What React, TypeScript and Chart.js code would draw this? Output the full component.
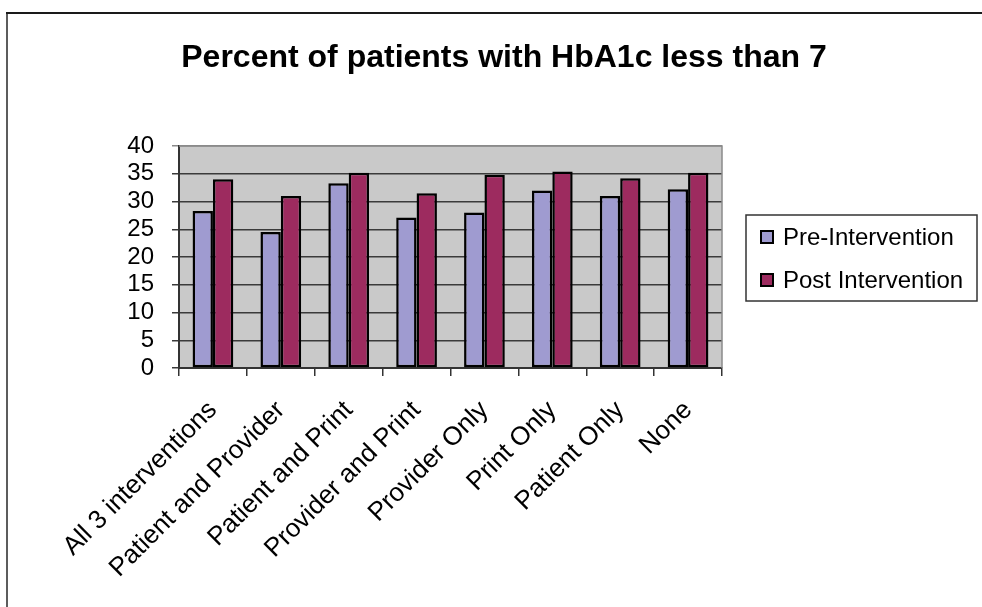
import React, { useEffect, useRef } from 'react';
import { Chart, registerables } from 'chart.js';

Chart.register(...registerables);

const TITLE = 'Percent of patients with HbA1c less than 7';
const categories = [
  'All 3 interventions',
  'Patient and Provider',
  'Patient and Print',
  'Provider and Print',
  'Provider Only',
  'Print Only',
  'Patient Only',
  'None',
];
const seriesNames = ['Pre-Intervention', 'Post Intervention'];
const preValues = [28.3, 24.5, 33.3, 27.1, 28.0, 32.0, 31.0, 32.2];
const postValues = [34.0, 31.0, 35.2, 31.5, 34.8, 35.4, 34.2, 35.2];
const yTicks = [0, 5, 10, 15, 20, 25, 30, 35, 40];

const FONT = '"Liberation Sans", Arial, sans-serif';
const PRE_COLOR = '#9f9bd0';
const POST_COLOR = '#9d2b5f';

const framePlugin = {
  id: 'frame',
  beforeDraw(chart: any) {
    const { ctx, chartArea: a } = chart;
    ctx.save();
    ctx.fillStyle = '#ffffff';
    ctx.fillRect(0, 0, chart.width, chart.height);
    ctx.fillStyle = '#c9c9c9';
    ctx.fillRect(a.left, a.top, a.right - a.left, a.bottom - a.top);
    // outer frame
    ctx.fillStyle = '#5c5c5c';
    ctx.fillRect(6, 13, 2, chart.height - 13);
    ctx.fillStyle = '#1a1a1a';
    ctx.fillRect(6, 12, chart.width - 6, 2);
    ctx.restore();
  },
  afterDatasetsDraw(chart: any) {
    const { ctx, chartArea: a } = chart;
    ctx.save();
    ctx.strokeStyle = '#8a8a8a';
    ctx.lineWidth = 1.5;
    ctx.beginPath();
    ctx.moveTo(a.left, a.top);
    ctx.lineTo(a.right, a.top);
    ctx.lineTo(a.right, a.bottom);
    ctx.stroke();
    ctx.restore();
  },
  afterDraw(chart: any) {
    const { ctx } = chart;
    const L = 746, T = 215, W = 231, H = 86;
    ctx.save();
    ctx.strokeStyle = '#333333';
    ctx.lineWidth = 1.5;
    ctx.strokeRect(L, T, W, H);
    ctx.font = `24px ${FONT}`;
    ctx.textBaseline = 'middle';
    ctx.textAlign = 'left';
    chart.data.datasets.forEach((ds: any, i: number) => {
      const cy = T + 22 + i * 43;
      ctx.fillStyle = '#000';
      ctx.fillRect(760, cy - 7, 14, 14);
      ctx.fillStyle = ds.backgroundColor;
      ctx.fillRect(762, cy - 5, 10, 10);
      ctx.fillStyle = '#000';
      ctx.fillText(ds.label, 783, cy + 1);
    });
    ctx.restore();
  },
};

export default function App() {
  const ref = useRef<HTMLCanvasElement>(null);
  useEffect(() => {
    const chart = new Chart(ref.current as HTMLCanvasElement, {
      type: 'bar',
      data: {
        labels: categories,
        datasets: [
          {
            label: seriesNames[0],
            data: preValues,
            backgroundColor: PRE_COLOR,
            borderColor: '#000',
            borderWidth: 2.5,
            borderSkipped: false,
            barPercentage: 1,
            categoryPercentage: 0.6,
          },
          {
            label: seriesNames[1],
            data: postValues,
            backgroundColor: POST_COLOR,
            borderColor: '#000',
            borderWidth: 2.5,
            borderSkipped: false,
            barPercentage: 1,
            categoryPercentage: 0.6,
          },
        ],
      },
      options: {
        responsive: false,
        animation: false,
        devicePixelRatio: 1,
        layout: { padding: { top: 14, right: 0, left: 26, bottom: 0 } },
        plugins: {
          legend: { display: false },
          tooltip: { enabled: false },
          title: {
            display: true,
            text: TITLE,
            color: '#000',
            font: { family: FONT, size: 32, weight: 'bold' },
            padding: { top: 25, bottom: 68.6 },
          },
        },
        scales: {
          x: {
            afterFit: (s: any) => {
              s.height = 239;
            },
            grid: {
              offset: true,
              drawOnChartArea: false,
              drawTicks: true,
              tickLength: 8,
              color: '#333',
              lineWidth: 1.5,
            },
            border: { display: true, color: '#333', width: 2 },
            ticks: {
              color: '#000',
              font: { family: FONT, size: 26 },
              maxRotation: 45,
              minRotation: 45,
              autoSkip: false,
              padding: 19,
            },
          },
          y: {
            min: 0,
            max: 40,
            afterBuildTicks: (s: any) => {
              s.ticks = yTicks.map((v) => ({ value: v }));
            },
            afterFit: (s: any) => {
              s.width = 153;
            },
            grid: {
              color: (c: any) => (c.tick && c.tick.value === 40 ? '#8a8a8a' : '#3a3a3a'),
              lineWidth: 1.5,
              tickLength: 7,
              drawTicks: true,
            },
            border: { display: true, color: '#333', width: 2 },
            ticks: {
              color: '#000',
              font: { family: FONT, size: 24 },
              padding: 18,
              autoSkip: false,
            },
          },
          yRightSpace: {
            type: 'linear',
            position: 'right',
            display: true,
            afterFit: (s: any) => {
              s.width = 260;
            },
            grid: { display: false, drawOnChartArea: false },
            border: { display: false },
            ticks: { display: false },
          },
        },
      },
      plugins: [framePlugin],
    } as any);
    return () => chart.destroy();
  }, []);
  return (
    <div style={{ position: 'absolute', left: 0, top: 0, width: 982, height: 607 }}>
      <canvas ref={ref} width={982} height={607} style={{ display: 'block', width: 982, height: 607 }} />
    </div>
  );
}
